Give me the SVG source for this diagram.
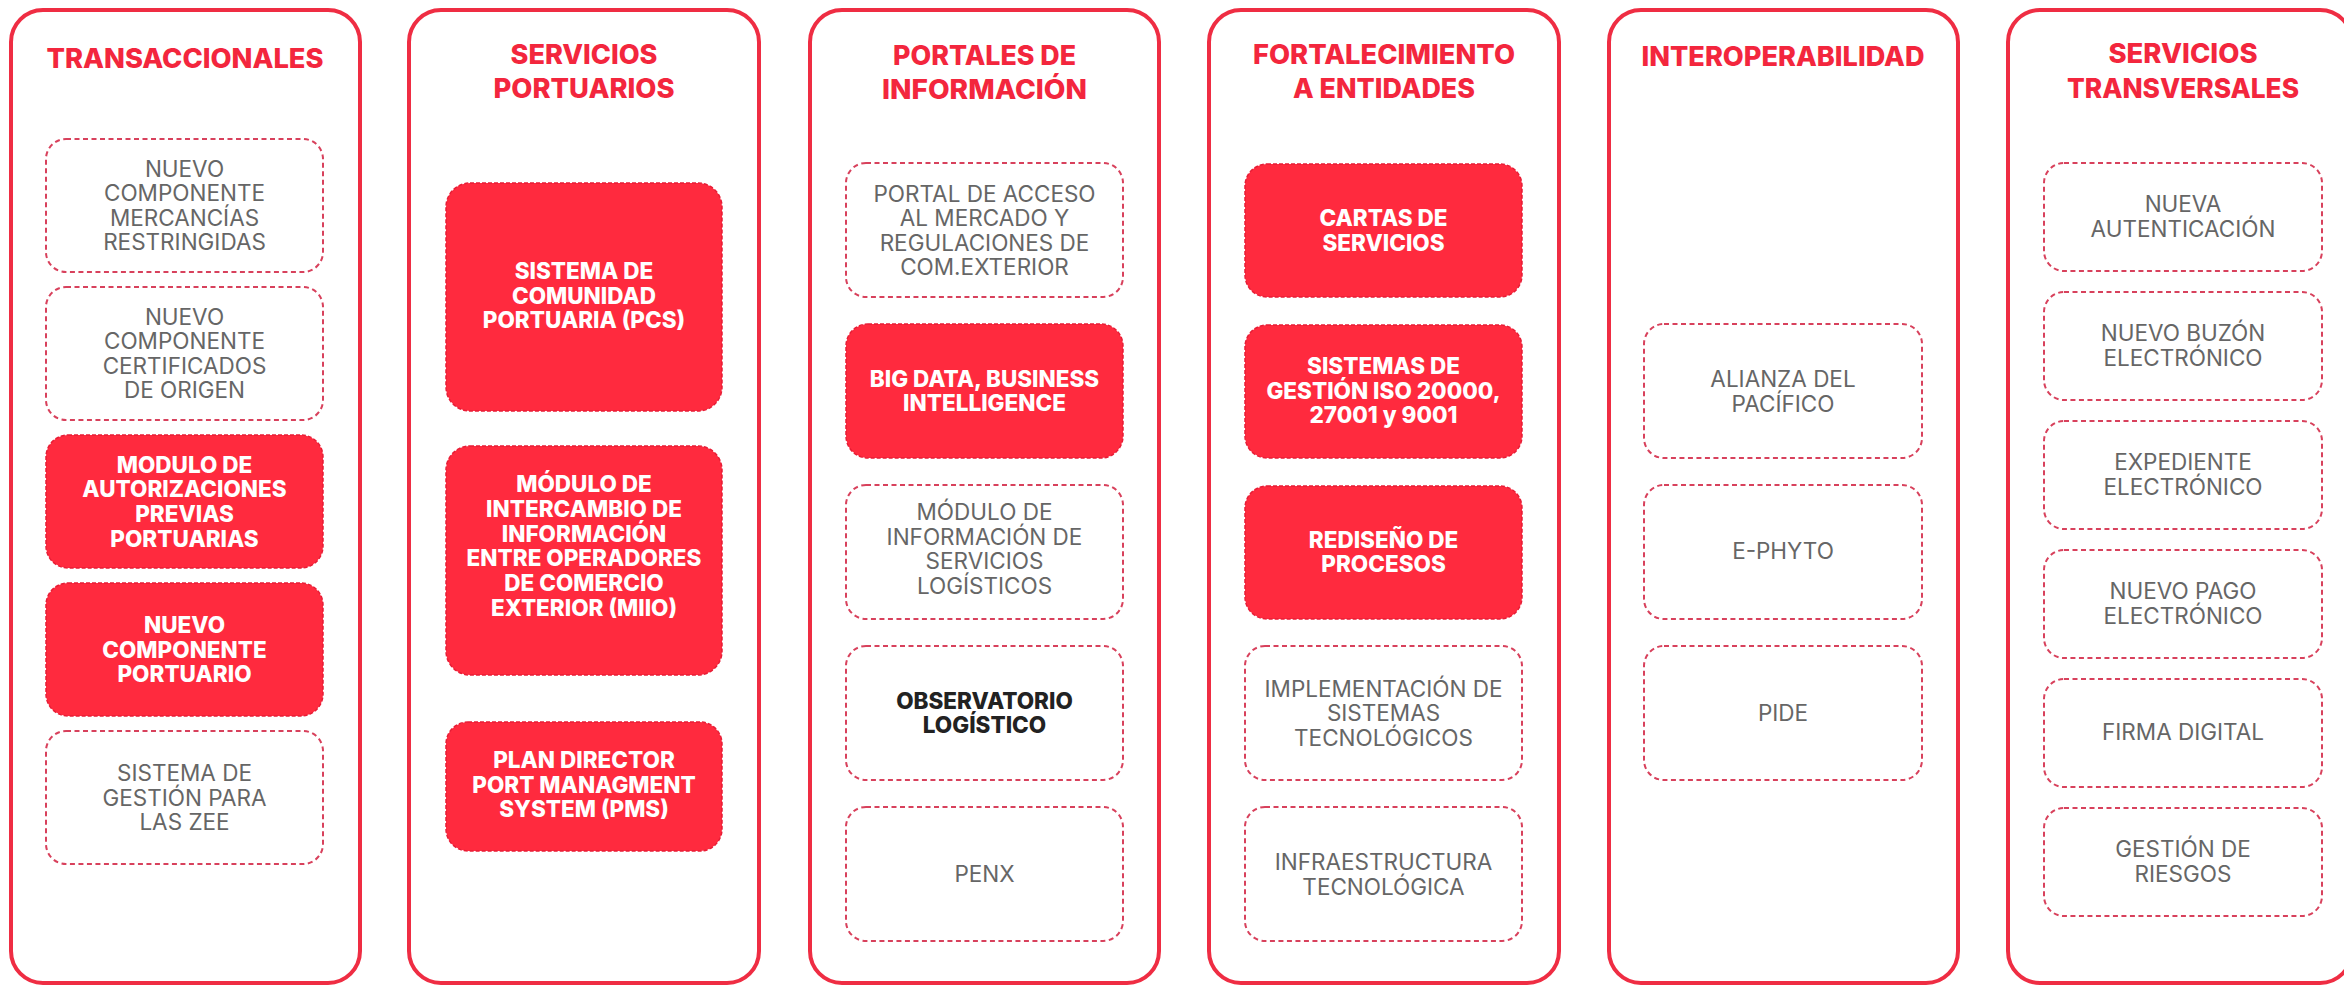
<svg xmlns="http://www.w3.org/2000/svg" width="2344" height="986" viewBox="0 0 2344 986">
<style>
.col{fill:#ffffff;stroke:#ef2d43;stroke-width:4}
.title{font-family:Inter,"Liberation Sans",sans-serif;font-weight:800;font-size:27px;fill:#f3263d;text-anchor:middle}
.lb{fill:#ffffff;stroke:#d8415c;stroke-width:2;stroke-dasharray:5 3.5}
.rb{fill:#ff2a3e;stroke:#e81d36;stroke-width:1.5;stroke-dasharray:4 2}
.gt{font-family:Inter,"Liberation Sans",sans-serif;font-weight:400;font-size:22.5px;fill:#666666;text-anchor:middle}
.wt{font-family:Inter,"Liberation Sans",sans-serif;font-weight:800;font-size:22.5px;fill:#ffffff;text-anchor:middle}
.dt{font-family:Inter,"Liberation Sans",sans-serif;font-weight:800;font-size:22.5px;fill:#222222;text-anchor:middle}
</style>
<rect width="2344" height="986" fill="#ffffff"/>

<g id="col-transaccionales">
<rect class="col" x="11" y="10" width="349" height="973" rx="32"/>
<text class="title" x="185" y="68" textLength="277" lengthAdjust="spacingAndGlyphs">TRANSACCIONALES</text>
</g>
<g id="col-servicios-portuarios">
<rect class="col" x="409" y="10" width="350" height="973" rx="32"/>
<text class="title" x="584" y="64" textLength="147" lengthAdjust="spacingAndGlyphs">SERVICIOS</text>
<text class="title" x="584" y="98" textLength="181" lengthAdjust="spacingAndGlyphs">PORTUARIOS</text>
</g>
<g id="col-portales">
<rect class="col" x="810" y="10" width="349" height="973" rx="32"/>
<text class="title" x="984.5" y="65" textLength="183" lengthAdjust="spacingAndGlyphs">PORTALES DE</text>
<text class="title" x="984.5" y="99" textLength="205" lengthAdjust="spacingAndGlyphs">INFORMACIÓN</text>
</g>
<g id="col-fortalecimiento">
<rect class="col" x="1209" y="10" width="350" height="973" rx="32"/>
<text class="title" x="1384" y="64" textLength="262" lengthAdjust="spacingAndGlyphs">FORTALECIMIENTO</text>
<text class="title" x="1384" y="98" textLength="182" lengthAdjust="spacingAndGlyphs">A ENTIDADES</text>
</g>
<g id="col-interoperabilidad">
<rect class="col" x="1609" y="10" width="349" height="973" rx="32"/>
<text class="title" x="1783" y="66" textLength="283" lengthAdjust="spacingAndGlyphs">INTEROPERABILIDAD</text>
</g>
<g id="col-transversales">
<rect class="col" x="2008" y="10" width="344" height="973" rx="32"/>
<text class="title" x="2183" y="63" textLength="149" lengthAdjust="spacingAndGlyphs">SERVICIOS</text>
<text class="title" x="2183" y="98" textLength="232" lengthAdjust="spacingAndGlyphs">TRANSVERSALES</text>
</g>

<!-- Column 1 -->
<g id="n-mercancias">
<rect class="lb" x="46" y="139" width="277" height="133" rx="20"/>
<text class="gt" x="184.5" y="176.5">NUEVO<tspan x="184.5" dy="24.5">COMPONENTE</tspan><tspan x="184.5" dy="24.5">MERCANCÍAS</tspan><tspan x="184.5" dy="24.5">RESTRINGIDAS</tspan></text>
</g>
<g id="n-certificados">
<rect class="lb" x="46" y="287" width="277" height="133" rx="20"/>
<text class="gt" x="184.5" y="324.5">NUEVO<tspan x="184.5" dy="24.5">COMPONENTE</tspan><tspan x="184.5" dy="24.5">CERTIFICADOS</tspan><tspan x="184.5" dy="24.5">DE ORIGEN</tspan></text>
</g>
<g id="n-autorizaciones">
<rect class="rb" x="46" y="435" width="277" height="133" rx="22"/>
<text class="wt" x="184.5" y="472.5">MODULO DE<tspan x="184.5" dy="24.7">AUTORIZACIONES</tspan><tspan x="184.5" dy="24.7">PREVIAS</tspan><tspan x="184.5" dy="24.7">PORTUARIAS</tspan></text>
</g>
<g id="n-portuario">
<rect class="rb" x="46" y="583" width="277" height="133" rx="22"/>
<text class="wt" x="184.5" y="633">NUEVO<tspan x="184.5" dy="24.7">COMPONENTE</tspan><tspan x="184.5" dy="24.7">PORTUARIO</tspan></text>
</g>
<g id="n-zee">
<rect class="lb" x="46" y="731" width="277" height="133" rx="20"/>
<text class="gt" x="184.5" y="781">SISTEMA DE<tspan x="184.5" dy="24.5">GESTIÓN PARA</tspan><tspan x="184.5" dy="24.5">LAS ZEE</tspan></text>
</g>

<!-- Column 2 -->
<g id="n-pcs">
<rect class="rb" x="446" y="183" width="276" height="228" rx="24"/>
<text class="wt" x="584" y="279">SISTEMA DE<tspan x="584" dy="24.7">COMUNIDAD</tspan><tspan x="584" dy="24.7">PORTUARIA (PCS)</tspan></text>
</g>
<g id="n-miio">
<rect class="rb" x="446" y="446" width="276" height="229" rx="24"/>
<text class="wt" x="584" y="492">MÓDULO DE<tspan x="584" dy="24.8">INTERCAMBIO DE</tspan><tspan x="584" dy="24.8">INFORMACIÓN</tspan><tspan x="584" dy="24.8">ENTRE OPERADORES</tspan><tspan x="584" dy="24.8">DE COMERCIO</tspan><tspan x="584" dy="24.8">EXTERIOR (MIIO)</tspan></text>
</g>
<g id="n-pms">
<rect class="rb" x="446" y="722" width="276" height="129" rx="22"/>
<text class="wt" x="584" y="768">PLAN DIRECTOR<tspan x="584" dy="24.7">PORT MANAGMENT</tspan><tspan x="584" dy="24.7">SYSTEM (PMS)</tspan></text>
</g>

<!-- Column 3 -->
<g id="n-portal">
<rect class="lb" x="846" y="163" width="277" height="134" rx="20"/>
<text class="gt" x="984.5" y="201.5">PORTAL DE ACCESO<tspan x="984.5" dy="24.5">AL MERCADO Y</tspan><tspan x="984.5" dy="24.5">REGULACIONES DE</tspan><tspan x="984.5" dy="24.5">COM.EXTERIOR</tspan></text>
</g>
<g id="n-bigdata">
<rect class="rb" x="846" y="324" width="277" height="134" rx="22"/>
<text class="wt" x="984.5" y="386.5">BIG DATA, BUSINESS<tspan x="984.5" dy="24.7">INTELLIGENCE</tspan></text>
</g>
<g id="n-logisticos">
<rect class="lb" x="846" y="485" width="277" height="134" rx="20"/>
<text class="gt" x="984.5" y="520">MÓDULO DE<tspan x="984.5" dy="24.6">INFORMACIÓN DE</tspan><tspan x="984.5" dy="24.6">SERVICIOS</tspan><tspan x="984.5" dy="24.6">LOGÍSTICOS</tspan></text>
</g>
<g id="n-observatorio">
<rect class="lb" x="846" y="646" width="277" height="134" rx="20"/>
<text class="dt" x="984.5" y="708.5">OBSERVATORIO<tspan x="984.5" dy="24.7">LOGÍSTICO</tspan></text>
</g>
<g id="n-penx">
<rect class="lb" x="846" y="807" width="277" height="134" rx="20"/>
<text class="gt" x="984.5" y="882">PENX</text>
</g>

<!-- Column 4 -->
<g id="n-cartas">
<rect class="rb" x="1245" y="164" width="277" height="133" rx="22"/>
<text class="wt" x="1383.5" y="226">CARTAS DE<tspan x="1383.5" dy="24.7">SERVICIOS</tspan></text>
</g>
<g id="n-iso">
<rect class="rb" x="1245" y="325" width="277" height="133" rx="22"/>
<text class="wt" x="1383.5" y="374">SISTEMAS DE<tspan x="1383.5" dy="24.7">GESTIÓN ISO 20000,</tspan><tspan x="1383.5" dy="24.7">27001 y 9001</tspan></text>
</g>
<g id="n-rediseno">
<rect class="rb" x="1245" y="486" width="277" height="133" rx="22"/>
<text class="wt" x="1383.5" y="547.5">REDISEÑO DE<tspan x="1383.5" dy="24.7">PROCESOS</tspan></text>
</g>
<g id="n-implementacion">
<rect class="lb" x="1245" y="646" width="277" height="134" rx="20"/>
<text class="gt" x="1383.5" y="696.5">IMPLEMENTACIÓN DE<tspan x="1383.5" dy="24.5">SISTEMAS</tspan><tspan x="1383.5" dy="24.5">TECNOLÓGICOS</tspan></text>
</g>
<g id="n-infraestructura">
<rect class="lb" x="1245" y="807" width="277" height="134" rx="20"/>
<text class="gt" x="1383.5" y="870">INFRAESTRUCTURA<tspan x="1383.5" dy="24.5">TECNOLÓGICA</tspan></text>
</g>

<!-- Column 5 -->
<g id="n-alianza">
<rect class="lb" x="1644" y="324" width="278" height="134" rx="20"/>
<text class="gt" x="1783" y="387">ALIANZA DEL<tspan x="1783" dy="24.5">PACÍFICO</tspan></text>
</g>
<g id="n-ephyto">
<rect class="lb" x="1644" y="485" width="278" height="134" rx="20"/>
<text class="gt" x="1783" y="559">E-PHYTO</text>
</g>
<g id="n-pide">
<rect class="lb" x="1644" y="646" width="278" height="134" rx="20"/>
<text class="gt" x="1783" y="721">PIDE</text>
</g>

<!-- Column 6 -->
<g id="n-autenticacion">
<rect class="lb" x="2044" y="163" width="278" height="108" rx="20"/>
<text class="gt" x="2183" y="212">NUEVA<tspan x="2183" dy="24.5">AUTENTICACIÓN</tspan></text>
</g>
<g id="n-buzon">
<rect class="lb" x="2044" y="292" width="278" height="108" rx="20"/>
<text class="gt" x="2183" y="341">NUEVO BUZÓN<tspan x="2183" dy="24.5">ELECTRÓNICO</tspan></text>
</g>
<g id="n-expediente">
<rect class="lb" x="2044" y="421" width="278" height="108" rx="20"/>
<text class="gt" x="2183" y="470">EXPEDIENTE<tspan x="2183" dy="24.5">ELECTRÓNICO</tspan></text>
</g>
<g id="n-pago">
<rect class="lb" x="2044" y="550" width="278" height="108" rx="20"/>
<text class="gt" x="2183" y="599">NUEVO PAGO<tspan x="2183" dy="24.5">ELECTRÓNICO</tspan></text>
</g>
<g id="n-firma">
<rect class="lb" x="2044" y="679" width="278" height="108" rx="20"/>
<text class="gt" x="2183" y="740">FIRMA DIGITAL</text>
</g>
<g id="n-riesgos">
<rect class="lb" x="2044" y="808" width="278" height="108" rx="20"/>
<text class="gt" x="2183" y="857">GESTIÓN DE<tspan x="2183" dy="24.5">RIESGOS</tspan></text>
</g>

<g id="connectors"></g>
</svg>
